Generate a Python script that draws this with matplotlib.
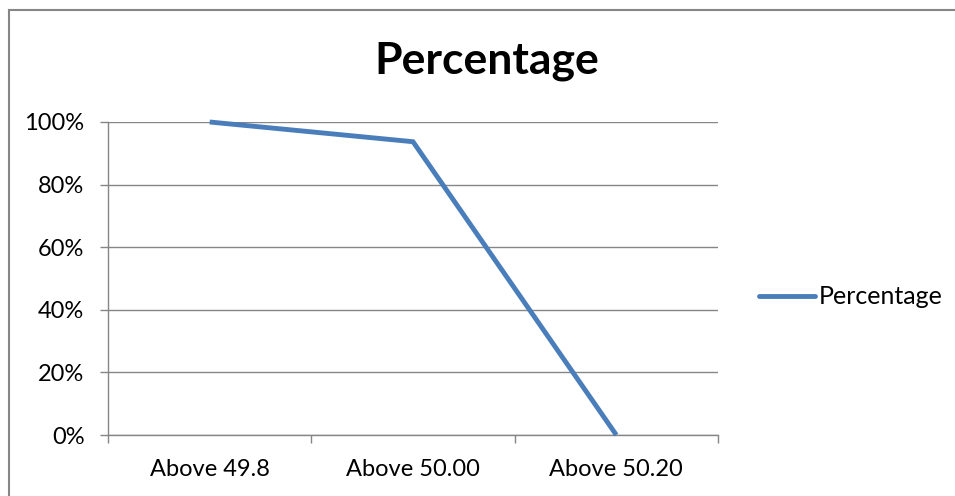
import matplotlib
matplotlib.use("Agg")
import matplotlib.pyplot as plt
from matplotlib.lines import Line2D
from matplotlib.ticker import FixedLocator, PercentFormatter

categories = ["Above 49.8", "Above 50.00", "Above 50.20"]
values = [100, 93.7, 0]
series_name = "Percentage"
yticks = [0, 20, 40, 60, 80, 100]

plt.rcParams['font.family'] = ['Lato', 'DejaVu Sans']

W, H = 955, 496
fig = plt.figure(figsize=(W / 100, H / 100), dpi=100)
ax = fig.add_axes([108 / W, 1 - 435 / H, (718 - 108) / W, (435 - 122) / H])

x = list(range(len(categories)))
ax.plot(x, values, color="#4A7EBB", linewidth=3.5, solid_capstyle="butt",
        solid_joinstyle="miter", label=series_name, clip_on=False, zorder=3)

ax.set_xlim(-0.5, len(categories) - 0.5)
ax.set_ylim(0, 100)
ax.set_yticks(yticks)
ax.yaxis.set_major_formatter(PercentFormatter(decimals=0))
ax.set_xticks(x)
ax.set_xticklabels(categories)
ax.xaxis.set_minor_locator(FixedLocator([i - 0.5 for i in range(len(categories) + 1)]))

grid_c = "#868686"
ax.grid(axis="y", color=grid_c, linewidth=1)
ax.set_axisbelow(True)
for s in ["top", "right"]:
    ax.spines[s].set_visible(False)
for s in ["left", "bottom"]:
    ax.spines[s].set_color(grid_c)
    ax.spines[s].set_linewidth(1)

ax.tick_params(axis="y", length=6, color=grid_c, width=1, labelsize=17, pad=11)
ax.tick_params(axis="x", which="major", length=0, labelsize=17, pad=17)
ax.tick_params(axis="x", which="minor", length=6, color=grid_c, width=1)

fig.text(487 / W, 1 - 61 / H, "Percentage", ha="center", va="center",
         fontsize=32, fontweight="bold")

handle = Line2D([], [], color="#4A7EBB", linewidth=3.5, solid_capstyle="round")
fig.legend([handle], [series_name], loc="center left",
           bbox_to_anchor=(759 / W, 1 - 297 / H), frameon=False,
           fontsize=18, handlelength=2.25, handletextpad=0.15, borderpad=0,
           borderaxespad=0)

# outer chart frame (left and top edges visible)
fig.add_artist(Line2D([8.5 / W, 8.5 / W], [0, 1 - 10 / H], transform=fig.transFigure,
                      color="#868686", linewidth=1.5))
fig.add_artist(Line2D([8.5 / W, 1], [1 - 10 / H, 1 - 10 / H], transform=fig.transFigure,
                      color="#868686", linewidth=1.5))

fig.savefig("out.png", dpi=100)
